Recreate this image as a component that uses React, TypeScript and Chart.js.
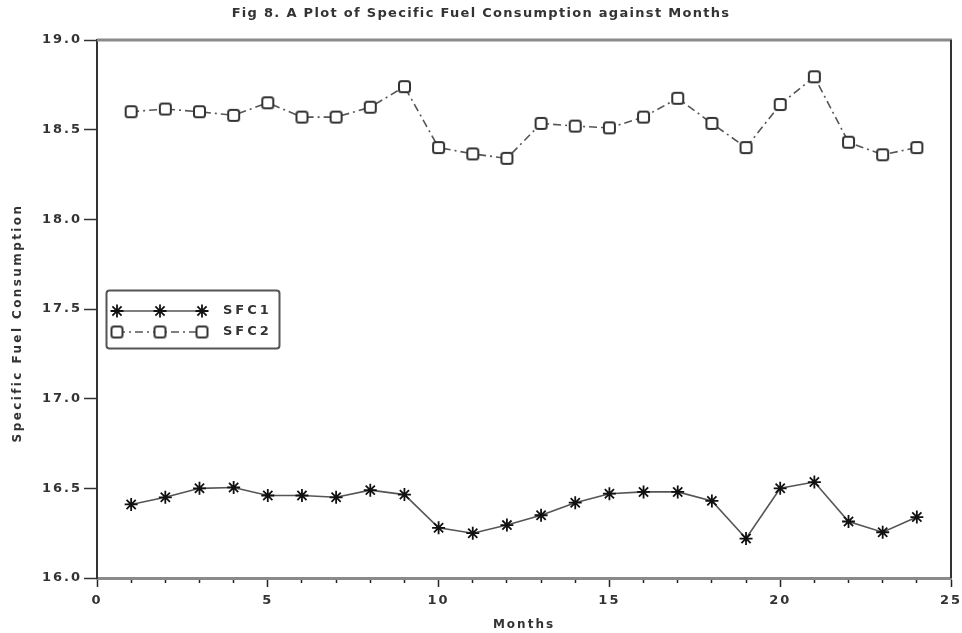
import React, { useEffect, useRef } from 'react';
import { Chart, registerables } from 'chart.js';

Chart.register(...registerables);

const months = [1, 2, 3, 4, 5, 6, 7, 8, 9, 10, 11, 12, 13, 14, 15, 16, 17, 18, 19, 20, 21, 22, 23, 24];
const sfc1 = [16.41, 16.45, 16.5, 16.505, 16.46, 16.46, 16.45, 16.49, 16.465, 16.28, 16.25, 16.295, 16.35, 16.42, 16.47, 16.48, 16.48, 16.43, 16.22, 16.5, 16.535, 16.315, 16.255, 16.34];
const sfc2 = [18.6, 18.615, 18.6, 18.58, 18.65, 18.57, 18.57, 18.625, 18.74, 18.4, 18.365, 18.34, 18.535, 18.52, 18.51, 18.57, 18.675, 18.535, 18.4, 18.64, 18.795, 18.43, 18.36, 18.4];
const seriesLabels = ['SFC1', 'SFC2'];
const titleText = 'Fig 8. A Plot of Specific Fuel Consumption against Months';
const xAxisTitle = 'Months';
const yAxisTitle = 'Specific Fuel Consumption';
const yMin = 16.0;
const yMax = 19.0;
const yStep = 0.5;
const xMin = 0;
const xMax = 25;
const xMajorEvery = 5;

const FONT = "'DejaVu Sans', Verdana, sans-serif";
const TEXT = '#333333';

function makeSquare(): HTMLCanvasElement {
  const c = document.createElement('canvas');
  c.width = 15;
  c.height = 15;
  const g = c.getContext('2d')!;
  g.fillStyle = '#ffffff';
  g.strokeStyle = '#333333';
  g.lineWidth = 2;
  g.beginPath();
  (g as any).roundRect(2, 2, 11, 11, 2.5);
  g.fill();
  g.stroke();
  return c;
}

function drawStar(ctx: CanvasRenderingContext2D, x: number, y: number, r: number) {
  ctx.beginPath();
  for (let k = 0; k < 4; k++) {
    const a = (k * Math.PI) / 4;
    ctx.moveTo(x - Math.cos(a) * r, y - Math.sin(a) * r);
    ctx.lineTo(x + Math.cos(a) * r, y + Math.sin(a) * r);
  }
  ctx.stroke();
}

export default function App() {
  const ref = useRef<HTMLCanvasElement | null>(null);

  useEffect(() => {
    const canvas = ref.current;
    if (!canvas) return;
    const square = makeSquare();

    const spacingPlugin = {
      id: 'spacing',
      beforeDraw(chart: any) {
        (chart.ctx as any).letterSpacing = '2px';
      },
    };

    const framePlugin = {
      id: 'frame',
      afterDraw(chart: any) {
        const ctx: CanvasRenderingContext2D = chart.ctx;
        const a = chart.chartArea;
        ctx.save();
        // top and right frame lines
        ctx.strokeStyle = '#8a8a8a';
        ctx.lineWidth = 3;
        ctx.beginPath();
        ctx.moveTo(a.left, a.top);
        ctx.lineTo(a.right + 1, a.top);
        ctx.stroke();
        ctx.strokeStyle = '#333333';
        ctx.lineWidth = 2;
        ctx.beginPath();
        ctx.moveTo(a.right, a.top);
        ctx.lineTo(a.right, a.bottom);
        ctx.stroke();

        // title
        (ctx as any).letterSpacing = '1.3px';
        ctx.fillStyle = TEXT;
        ctx.font = `bold 13px ${FONT}`;
        ctx.textAlign = 'center';
        ctx.textBaseline = 'middle';
        ctx.fillText(titleText, 481, 14);

        // y axis title
        ctx.save();
        (ctx as any).letterSpacing = '2.4px';
        ctx.translate(18, 323);
        ctx.rotate(-Math.PI / 2);
        ctx.font = `bold 12px ${FONT}`;
        ctx.fillText(yAxisTitle, 0, 0);
        ctx.restore();

        // legend box
        const lx = 106.5, ly = 290.5, lw = 173, lh = 58;
        ctx.fillStyle = '#ffffff';
        ctx.strokeStyle = '#555555';
        ctx.lineWidth = 2;
        ctx.beginPath();
        (ctx as any).roundRect(lx, ly, lw, lh, 3);
        ctx.fill();
        ctx.stroke();

        const mx = [117, 160, 202];
        chart.data.datasets.forEach((ds: any, i: number) => {
          const y = 311 + i * 21;
          ctx.save();
          ctx.strokeStyle = ds.borderColor;
          ctx.lineWidth = ds.borderWidth;
          ctx.setLineDash(ds.borderDash || []);
          ctx.beginPath();
          ctx.moveTo(mx[0], y);
          ctx.lineTo(mx[2], y);
          ctx.stroke();
          ctx.restore();
          mx.forEach((x) => {
            if (ds.pointStyle === 'star') {
              ctx.strokeStyle = ds.pointBorderColor;
              ctx.lineWidth = ds.pointBorderWidth;
              drawStar(ctx, x, y, ds.pointRadius);
            } else {
              ctx.drawImage(ds.pointStyle, x - ds.pointStyle.width / 2, y - ds.pointStyle.height / 2);
            }
          });
          (ctx as any).letterSpacing = '3px';
          ctx.fillStyle = TEXT;
          ctx.font = `bold 13px ${FONT}`;
          ctx.textAlign = 'left';
          ctx.textBaseline = 'middle';
          ctx.fillText(ds.label, 223, y);
        });
        ctx.restore();
      },
    };

    const chart = new Chart(canvas, {
      type: 'line',
      data: {
        datasets: [
          {
            label: seriesLabels[0],
            data: months.map((m, i) => ({ x: m, y: sfc1[i] })),
            borderColor: '#555555',
            borderWidth: 1.6,
            pointStyle: 'star',
            pointRadius: 6.5,
            pointBorderColor: '#111111',
            pointBorderWidth: 1.8,
            pointBackgroundColor: '#111111',
            tension: 0,
          } as any,
          {
            label: seriesLabels[1],
            data: months.map((m, i) => ({ x: m, y: sfc2[i] })),
            borderColor: '#555555',
            borderWidth: 1.6,
            borderDash: [8, 4, 2, 4],
            pointStyle: square,
            pointRadius: 7,
            tension: 0,
          } as any,
        ],
      },
      options: {
        responsive: false,
        animation: false,
        devicePixelRatio: 1,
        layout: { padding: { top: 40, right: 11, left: 0, bottom: 0 } },
        plugins: {
          legend: { display: false },
          title: { display: false },
          tooltip: { enabled: false },
        },
        scales: {
          x: {
            type: 'linear',
            min: xMin,
            max: xMax,
            afterFit: (s: any) => {
              s.height = 55;
              s.paddingLeft = 0;
              s.paddingRight = 0;
            },
            border: { color: '#8a8a8a', width: 3 },
            grid: {
              drawOnChartArea: false,
              drawTicks: true,
              tickLength: 9,
              tickColor: '#222222',
              tickWidth: 1.5,
              tickBorderDash: (c: any) =>
                c.tick && Math.round(c.tick.value) % xMajorEvery === 0 ? [] : [3, 100],
            } as any,
            ticks: {
              stepSize: 1,
              autoSkip: false,
              maxRotation: 0,
              padding: 6,
              color: TEXT,
              font: { family: FONT, size: 13, weight: 'bold' },
              callback: (v: any) => (Math.round(v) % xMajorEvery === 0 ? String(v) : ''),
            },
            title: {
              display: true,
              text: xAxisTitle,
              color: TEXT,
              font: { family: FONT, size: 12, weight: 'bold' },
              padding: { top: 0, bottom: 1 },
            },
          },
          y: {
            type: 'linear',
            min: yMin,
            max: yMax,
            afterFit: (s: any) => {
              s.width = 97;
              s.paddingTop = 0;
              s.paddingBottom = 0;
            },
            border: { color: '#333333', width: 2 },
            grid: {
              drawOnChartArea: false,
              drawTicks: true,
              tickLength: 13,
              tickColor: '#333333',
              tickWidth: 1.5,
            },
            ticks: {
              stepSize: yStep,
              padding: 2,
              color: TEXT,
              font: { family: FONT, size: 13, weight: 'bold' },
              callback: (v: any) => Number(v).toFixed(1),
            },
            title: { display: false },
          },
        },
      },
      plugins: [spacingPlugin, framePlugin],
    });

    return () => {
      chart.destroy();
    };
  }, []);

  return (
    <div style={{ position: 'fixed', left: 0, top: 0, width: 962, height: 633, background: '#ffffff' }}>
      <canvas ref={ref} width={962} height={633} style={{ display: 'block', width: 962, height: 633 }} />
    </div>
  );
}
